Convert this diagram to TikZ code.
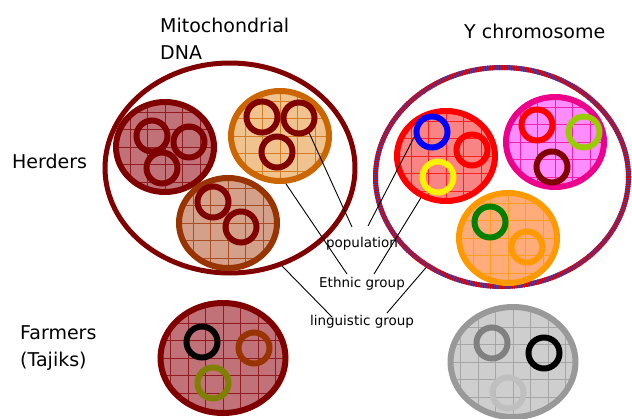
\documentclass[tikz,border=0pt]{standalone}
\usepackage{fontspec}
\setmainfont{DejaVu Sans}
\usetikzlibrary{shapes.geometric, calc}
\definecolor{cMaroon}{RGB}{128,0,0}
\definecolor{cRust}{RGB}{153,51,0}
\definecolor{cOrange}{RGB}{204,102,0}
\definecolor{cAmber}{RGB}{255,153,0}
\definecolor{cLime}{RGB}{153,204,0}
\definecolor{cOlive}{RGB}{128,128,0}
\definecolor{cGreen}{RGB}{0,128,0}
\definecolor{cStripe}{RGB}{70,60,170}
\definecolor{fRose}{RGB}{192,114,120}
\definecolor{fSand}{RGB}{240,194,142}
\definecolor{fClay}{RGB}{212,160,138}
\definecolor{fRed}{RGB}{248,132,132}
\definecolor{fPink}{RGB}{255,140,255}
\definecolor{fPeach}{RGB}{255,172,122}
\definecolor{fGrey}{RGB}{206,206,206}

\begin{document}
\begin{tikzpicture}[x=1pt, y=-1pt,
	grp/.style 2 args={ellipse, draw=#1, fill=#2, line width=6pt,
		minimum width=98pt, minimum height=90pt, inner sep=0pt,
		path picture={\draw[#1, line width=0.6pt, opacity=0.75, step=17.5pt]
			(path picture bounding box.south west) grid (path picture bounding box.north east);}},
	ring/.style={circle, draw=#1, line width=6pt, minimum size=31pt, inner sep=0pt},
	ttl/.style={font=\fontsize{19}{27}\selectfont, inner sep=0pt, align=left},
	lbl/.style={font=\fontsize{13.5}{16}\selectfont, inner sep=0pt},
	lead/.style={line width=0.9pt}]
	\useasboundingbox (0,0) rectangle (632,418);
	\node[ttl, anchor=north west] (mtdna) at (160,17.5) {Mitochondrial\\DNA};
	\node[ttl, anchor=base west] (ytitle) at (464,38) {Y chromosome};
	\node[ttl, anchor=base west] (herd) at (12,168) {Herders};
	\node[ttl, anchor=north west] (farm) at (20,325) {Farmers\\(Tajiks)};
	\node[ellipse, draw=cMaroon, line width=5pt, minimum width=250pt, minimum height=210pt] (mito) at (230,168) {};
	\node[ellipse, draw=cStripe, line width=5pt, minimum width=253pt, minimum height=219pt,
		postaction={draw=red!85!black, line width=5pt, dash pattern=on 1.2pt off 1.2pt}] (ychr) at (502,177) {};
	\node[grp={cMaroon}{fRose}] (grpA) at (165,147) {};
	\node[grp={cOrange}{fSand}] (grpB) at (280,136) {};
	\node[grp={cRust}{fClay}] (grpC) at (228,223) {};
	\node[grp={red}{fRed}] (grpD) at (446,156) {};
	\node[grp={magenta}{fPink}] (grpE) at (555,142) {};
	\node[grp={cAmber}{fPeach}] (grpF) at (508,238) {};
	\node[grp={cMaroon}{fRose}, minimum width=125pt, minimum height=110pt] (grpG) at (223,358) {};
	\node[grp={black!40}{fGrey}, minimum width=125pt, minimum height=110pt] (grpH) at (513,362) {};
	\node[ring=cMaroon] (rA1) at (152,136) {};
	\node[ring=cMaroon] (rA2) at (189,142) {};
	\node[ring=cMaroon] (rA3) at (162,168) {};
	\node[ring=cMaroon] (rB1) at (262,117) {};
	\node[ring=cMaroon] (rB2) at (299,118) {};
	\node[ring=cMaroon] (rB3) at (277,152) {};
	\node[ring=cMaroon] (rC1) at (213,202) {};
	\node[ring=cMaroon] (rC2) at (241,227) {};
	\node[ring=blue] (rD1) at (432,132) {};
	\node[ring=red] (rD2) at (472,150) {};
	\node[ring=yellow] (rD3) at (438,177) {};
	\node[ring=red] (rE1) at (537,125) {};
	\node[ring=cLime] (rE2) at (584,132) {};
	\node[ring=cMaroon] (rE3) at (552,167) {};
	\node[ring=cGreen] (rF1) at (490,222) {};
	\node[ring=cAmber] (rF2) at (527,247) {};
	\node[ring=black] (rG1) at (202,342) {};
	\node[ring=cRust] (rG2) at (254,348) {};
	\node[ring=cOlive] (rG3) at (213,383) {};
	\node[ring=black!50] (rH1) at (492,343) {};
	\node[ring=black] (rH2) at (544,353) {};
	\node[ring=black!25] (rH3) at (508,393) {};
	\node[lbl] (pop) at (362,244) {population};
	\node[lbl] (eth) at (362,284) {Ethnic group};
	\node[lbl] (ling) at (362,322) {linguistic group};
	\draw[lead] (rB2.-56) -- ($(pop)+(-10,-17)$);
	\draw[lead] (rD1.196) -- ($(pop)+(6,-18)$);
	\draw[lead] (grpB.-83) -- ($(eth)+(-15,-10)$);
	\draw[lead] (grpD.239) -- ($(eth)+(12,-10)$);
	\draw[lead] (mito.-62) -- ($(ling)+(-30,-5)$);
	\draw[lead] (ychr.230) -- ($(ling)+(25,-9)$);
\end{tikzpicture}
\end{document}
